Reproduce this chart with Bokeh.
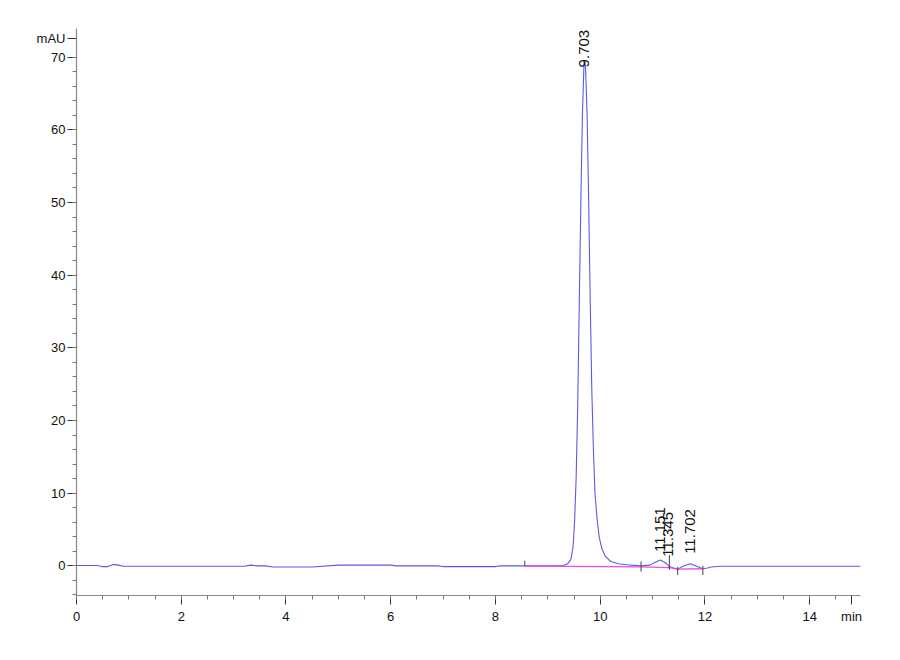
import math

from bokeh.core.properties import value
from bokeh.embed import file_html
from bokeh.models import FixedTicker, Range1d
from bokeh.plotting import figure
from bokeh.resources import INLINE

# chromatogram trace (min, mAU)
time_min = [0.0, 0.4, 0.48, 0.6, 0.70, 0.8, 0.9, 2.0, 3.2, 3.32, 3.45, 3.6, 3.76,
            4.5, 5.0, 6.0, 6.1, 6.9, 7.0, 8.0, 8.1, 8.56, 9.0, 9.30,
            9.38, 9.44, 9.48, 9.51, 9.54, 9.57, 9.60, 9.63, 9.66, 9.69, 9.703,
            9.72, 9.75, 9.78, 9.81, 9.84, 9.87, 9.90, 9.94, 9.98, 10.03, 10.10,
            10.20, 10.35, 10.5, 10.78, 10.95, 11.05, 11.15, 11.25, 11.32, 11.40,
            11.48, 11.60, 11.72, 11.82, 11.96, 12.05, 12.12, 12.3, 13.0, 14.0, 14.97]
signal_mau = [0.05, 0.05, -0.1, -0.1, 0.2, 0.1, -0.05, -0.05, -0.05, 0.1, 0.0, 0.0, -0.15,
              -0.15, 0.1, 0.1, 0.0, 0.0, -0.1, -0.1, 0.0, 0.0, 0.0, 0.05,
              0.3, 0.9, 2.5, 6.0, 12.0, 22.0, 36.0, 50.0, 62.0, 69.0, 69.6,
              68.5, 62.0, 50.0, 36.0, 24.0, 16.0, 10.0, 6.5, 4.0, 2.4, 1.3,
              0.6, 0.3, 0.15, 0.0, 0.1, 0.5, 0.8, 0.4, -0.1, -0.3,
              -0.45, 0.0, 0.3, 0.0, -0.4, -0.3, -0.15, -0.05, -0.05, -0.05, -0.05]

# integration baseline and peak delimiters
base_t = [8.56, 10.78, 11.32, 11.48, 11.96]
base_v = [-0.05, -0.15, -0.25, -0.45, -0.4]
mark_lo = [0.0, -0.8, -0.55, -1.25, -1.25]
mark_hi = [0.7, 0.6, 1.5, -0.15, 0.0]

# peak labels
peak_names = ["9.703", "11.151", "11.345", "11.702"]
peak_t = [9.690, 11.15, 11.30, 11.71]
label_y = [68.6, 1.9, 1.25, 1.65]

x_ticks = [0, 2, 4, 6, 8, 10, 12, 14]
y_ticks = [0, 10, 20, 30, 40, 50, 60, 70]
x_unit, x_unit_at = "min", 14.8
y_unit, y_unit_at = "mAU", 72.6

font = "Liberation Sans"

p = figure(width=880, height=640, output_backend="svg", toolbar_location=None,
           x_range=Range1d(0, 14.97), y_range=Range1d(-4.08, 73.95),
           min_border_left=76, min_border_right=20, min_border_top=28,
           min_border_bottom=45)
p.outline_line_color = None
p.xgrid.visible = False
p.ygrid.visible = False
p.background_fill_color = "white"

p.line(time_min, signal_mau, line_color="#5a5ae8", line_width=1.1)
p.line(base_t, base_v, line_color="#f048f0", line_width=1.3)
p.segment(x0=base_t, y0=mark_lo, x1=base_t, y1=mark_hi,
          line_color="#444444", line_width=1)

for name, t, y in zip(peak_names, peak_t, label_y):
    p.text(x=[t], y=[y], text=[name], angle=math.pi / 2,
           text_align="left", text_baseline="middle",
           text_font=value(font), text_font_size="15px", text_color="#111111")

# unit names sit in the tick label rows, as in the instrument printout
p.xaxis.ticker = FixedTicker(ticks=x_ticks + [x_unit_at],
                             minor_ticks=[i * 0.5 for i in range(0, 30)])
p.xaxis.major_label_overrides = {x_unit_at: x_unit}
p.yaxis.ticker = FixedTicker(ticks=y_ticks + [y_unit_at],
                             minor_ticks=[v for v in range(-4, 71, 2)])
p.yaxis.major_label_overrides = {y_unit_at: y_unit}

for ax in (p.xaxis, p.yaxis):
    ax.axis_line_color = "#8a8a8a"
    ax.axis_line_width = 1.2
    ax.major_tick_line_color = "#333333"
    ax.minor_tick_line_color = "#777777"
    ax.major_tick_out = 9
    ax.major_tick_in = 0
    ax.minor_tick_out = 4
    ax.minor_tick_in = 0
    ax.major_label_text_font = font
    ax.major_label_text_font_size = "13px"
    ax.major_label_text_color = "#111111"
p.yaxis.major_label_standoff = 2
p.xaxis.major_label_standoff = 4

open("out.html", "w").write(file_html(p, INLINE))
